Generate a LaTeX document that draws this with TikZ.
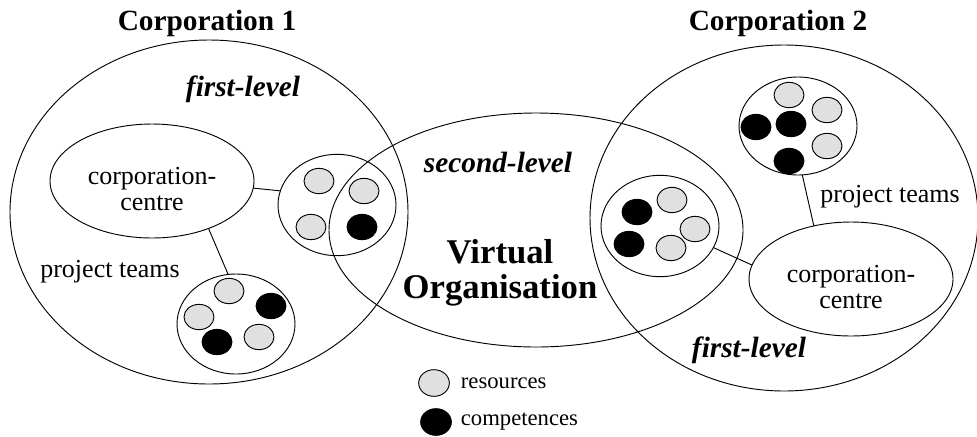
\documentclass[tikz,border=0pt]{standalone}
\usepackage{fontspec}
\setmainfont{Liberation Serif}
\usetikzlibrary{shapes.geometric}
\definecolor{resgray}{HTML}{E0E0E0}
\begin{document}
\begin{tikzpicture}[x=0.75pt,y=-0.75pt, line width=0.7pt,
  oval/.style={draw, ellipse, inner sep=0pt, outer sep=0pt},
  res/.style={oval, fill=resgray, minimum width=22.5pt, minimum height=19pt},
  comp/.style={oval, fill=black, minimum width=22.5pt, minimum height=19pt},
  team/.style={oval, minimum width=88.5pt, minimum height=76pt},
  centrebox/.style={oval, minimum width=153pt, minimum height=85.5pt},
  title/.style={font=\fontsize{22}{26}\selectfont\bfseries},
  level/.style={font=\fontsize{22}{26}\selectfont\bfseries\itshape},
  lbl/.style={font=\fontsize{19.5}{19}\selectfont, align=center},
  legend/.style={font=\fontsize{17}{20}\selectfont, anchor=west}
]
\useasboundingbox (0,0) rectangle (977,436);

% big ellipses
\node[oval, minimum width=298.5pt, minimum height=258pt] (corp1) at (209,212) {};
\node[oval, minimum width=291pt, minimum height=259.5pt] (corp2) at (784,218) {};
\node[oval, minimum width=310.5pt, minimum height=175.5pt] (vo) at (536,230) {};

% titles
\node[title] (t1) at (207,23) {Corporation 1};
\node[title] (t2) at (778,23) {Corporation 2};
\node[level] (fl1) at (243,89) {first-level};
\node[level] (fl2) at (749,350) {first-level};
\node[level] (sl) at (498,162) {second-level};
\node[font=\fontsize{26}{26}\selectfont\bfseries, align=center] (votext) at (500,273) {Virtual\\Organisation};

% corporation centres
\node[centrebox] (cc1) at (152,181) {};
\node[lbl] (cc1t) at (152,189) {corporation-\\centre};
\node[centrebox] (cc2) at (851,279) {};
\node[lbl] (cc2t) at (851,287) {corporation-\\centre};

% teams
\node[team] (tm1) at (337,205) {};
\node[team, minimum height=75pt] (pj1) at (236,324) {};
\node[team] (tm2) at (660,226) {};
\node[team, minimum height=73.5pt] (pj2) at (798,126) {};

\node[lbl] (pt1) at (110,272) {project teams};
\node[lbl] (pt2) at (890,197) {project teams};

% connectors
\draw (cc1.-4) -- (tm1.166);
\draw (cc1.-40) -- (pj1.99);
\draw (tm2.-22) -- (cc2.172);
\draw (pj2.-85) -- (cc2.125);

% circles in shared team 1
\node[res] (a1) at (319,181) {};
\node[res] (a2) at (311,227) {};
\node[res] (a3) at (364,191) {};
\node[comp] (a4) at (362,227) {};

% project team 1
\node[res] (b1) at (229,291) {};
\node[comp] (b2) at (271,306) {};
\node[res] (b3) at (199,317) {};
\node[comp] (b4) at (217,342) {};
\node[res] (b5) at (259,337) {};

% shared team 2
\node[comp] (c1) at (637,212) {};
\node[res] (c2) at (672,200) {};
\node[res] (c3) at (695,229) {};
\node[comp] (c4) at (629,244) {};
\node[res] (c5) at (671,248) {};

% project team 2
\node[res] (d1) at (789,95) {};
\node[res] (d2) at (827,110) {};
\node[comp] (d3) at (756,127) {};
\node[comp] (d4) at (791,124) {};
\node[res] (d5) at (827,146) {};
\node[comp] (d6) at (789,161) {};

% legend
\node[res, minimum width=23pt, minimum height=20pt] (lr) at (434,383) {};
\node[legend] (lrt) at (456,383) {resources};
\node[comp, minimum width=23pt, minimum height=20pt] (lc) at (436,422) {};
\node[legend] (lct) at (456,422) {competences};
\end{tikzpicture}
\end{document}
